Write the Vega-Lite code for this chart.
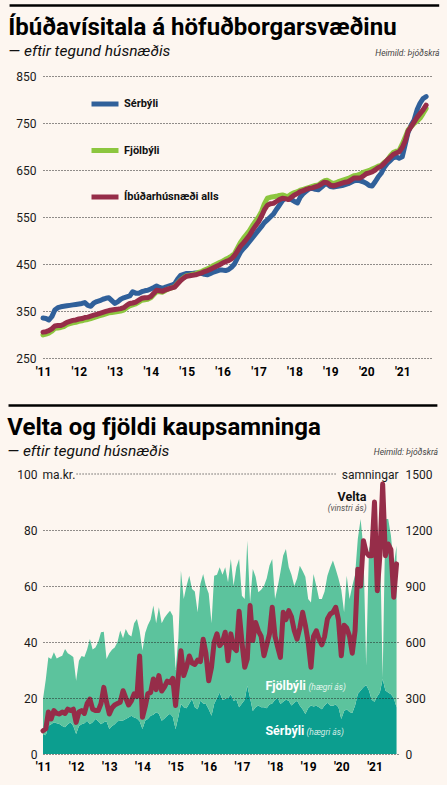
{
  "$schema": "https://vega.github.io/schema/vega-lite/v6.json",
  "background": "#fdf6f0",
  "padding": {"left": 7, "top": 4, "right": 11, "bottom": 13},
  "spacing": 27,
  "resolve": {"scale": {"color": "independent"}},
  "config": {
    "font": "Roboto",
    "view": {"stroke": null},
    "axis": {"domain": false, "ticks": false, "grid": false, "labelFont": "Roboto", "labelFontSize": 12, "labelColor": "#1a1a1a", "titleFont": "Roboto"},
    "title": {"font": "Roboto", "fontSize": 24, "fontWeight": "bold", "color": "#000", "subtitleFont": "Roboto", "subtitleFontSize": 15.5, "subtitleFontStyle": "italic", "subtitleColor": "#111", "subtitlePadding": 4, "anchor": "start", "frame": "bounds"}
  },
  "datasets": {
    "visitala": [
      {"date":"2011-01-01","Sérbýli":335,"Fjölbýli":299,"Íbúðarhúsnæði alls":305},
      {"date":"2011-02-01","Sérbýli":334,"Fjölbýli":301,"Íbúðarhúsnæði alls":306},
      {"date":"2011-03-01","Sérbýli":331,"Fjölbýli":303,"Íbúðarhúsnæði alls":308},
      {"date":"2011-04-01","Sérbýli":338,"Fjölbýli":307,"Íbúðarhúsnæði alls":312},
      {"date":"2011-05-01","Sérbýli":352,"Fjölbýli":313,"Íbúðarhúsnæði alls":318},
      {"date":"2011-06-01","Sérbýli":357,"Fjölbýli":314,"Íbúðarhúsnæði alls":319},
      {"date":"2011-07-01","Sérbýli":359,"Fjölbýli":315,"Íbúðarhúsnæði alls":319},
      {"date":"2011-08-01","Sérbýli":360,"Fjölbýli":317,"Íbúðarhúsnæði alls":322},
      {"date":"2011-09-01","Sérbýli":361,"Fjölbýli":321,"Íbúðarhúsnæði alls":326},
      {"date":"2011-10-01","Sérbýli":362,"Fjölbýli":323,"Íbúðarhúsnæði alls":328},
      {"date":"2011-11-01","Sérbýli":363,"Fjölbýli":325,"Íbúðarhúsnæði alls":330},
      {"date":"2011-12-01","Sérbýli":364,"Fjölbýli":326,"Íbúðarhúsnæði alls":331},
      {"date":"2012-01-01","Sérbýli":365,"Fjölbýli":328,"Íbúðarhúsnæði alls":333},
      {"date":"2012-02-01","Sérbýli":366,"Fjölbýli":329,"Íbúðarhúsnæði alls":334},
      {"date":"2012-03-01","Sérbýli":368,"Fjölbýli":331,"Íbúðarhúsnæði alls":336},
      {"date":"2012-04-01","Sérbýli":362,"Fjölbýli":332,"Íbúðarhúsnæði alls":337},
      {"date":"2012-05-01","Sérbýli":360,"Fjölbýli":334,"Íbúðarhúsnæði alls":339},
      {"date":"2012-06-01","Sérbýli":367,"Fjölbýli":336,"Íbúðarhúsnæði alls":341},
      {"date":"2012-07-01","Sérbýli":370,"Fjölbýli":338,"Íbúðarhúsnæði alls":343},
      {"date":"2012-08-01","Sérbýli":372,"Fjölbýli":340,"Íbúðarhúsnæði alls":345},
      {"date":"2012-09-01","Sérbýli":375,"Fjölbýli":342,"Íbúðarhúsnæði alls":347},
      {"date":"2012-10-01","Sérbýli":377,"Fjölbýli":344,"Íbúðarhúsnæði alls":349},
      {"date":"2012-11-01","Sérbýli":378,"Fjölbýli":346,"Íbúðarhúsnæði alls":351},
      {"date":"2012-12-01","Sérbýli":372,"Fjölbýli":347,"Íbúðarhúsnæði alls":352},
      {"date":"2013-01-01","Sérbýli":366,"Fjölbýli":348,"Íbúðarhúsnæði alls":353},
      {"date":"2013-02-01","Sérbýli":370,"Fjölbýli":349,"Íbúðarhúsnæði alls":354},
      {"date":"2013-03-01","Sérbýli":375,"Fjölbýli":350,"Íbúðarhúsnæði alls":355},
      {"date":"2013-04-01","Sérbýli":378,"Fjölbýli":352,"Íbúðarhúsnæði alls":357},
      {"date":"2013-05-01","Sérbýli":380,"Fjölbýli":357,"Íbúðarhúsnæði alls":362},
      {"date":"2013-06-01","Sérbýli":382,"Fjölbýli":361,"Íbúðarhúsnæði alls":366},
      {"date":"2013-07-01","Sérbýli":391,"Fjölbýli":363,"Íbúðarhúsnæði alls":367},
      {"date":"2013-08-01","Sérbýli":388,"Fjölbýli":365,"Íbúðarhúsnæði alls":369},
      {"date":"2013-09-01","Sérbýli":388,"Fjölbýli":369,"Íbúðarhúsnæði alls":373},
      {"date":"2013-10-01","Sérbýli":391,"Fjölbýli":373,"Íbúðarhúsnæði alls":377},
      {"date":"2013-11-01","Sérbýli":393,"Fjölbýli":374,"Íbúðarhúsnæði alls":378},
      {"date":"2013-12-01","Sérbýli":394,"Fjölbýli":375,"Íbúðarhúsnæði alls":378},
      {"date":"2014-01-01","Sérbýli":397,"Fjölbýli":378,"Íbúðarhúsnæði alls":381},
      {"date":"2014-02-01","Sérbýli":400,"Fjölbýli":385,"Íbúðarhúsnæði alls":388},
      {"date":"2014-03-01","Sérbýli":403,"Fjölbýli":391,"Íbúðarhúsnæði alls":394},
      {"date":"2014-04-01","Sérbýli":400,"Fjölbýli":391,"Íbúðarhúsnæði alls":393},
      {"date":"2014-05-01","Sérbýli":398,"Fjölbýli":390,"Íbúðarhúsnæði alls":392},
      {"date":"2014-06-01","Sérbýli":401,"Fjölbýli":394,"Íbúðarhúsnæði alls":395},
      {"date":"2014-07-01","Sérbýli":403,"Fjölbýli":397,"Íbúðarhúsnæði alls":397},
      {"date":"2014-08-01","Sérbýli":405,"Fjölbýli":399,"Íbúðarhúsnæði alls":399},
      {"date":"2014-09-01","Sérbýli":408,"Fjölbýli":402,"Íbúðarhúsnæði alls":401},
      {"date":"2014-10-01","Sérbýli":418,"Fjölbýli":409,"Íbúðarhúsnæði alls":408},
      {"date":"2014-11-01","Sérbýli":426,"Fjölbýli":416,"Íbúðarhúsnæði alls":415},
      {"date":"2014-12-01","Sérbýli":428,"Fjölbýli":421,"Íbúðarhúsnæði alls":420},
      {"date":"2015-01-01","Sérbýli":430,"Fjölbýli":425,"Íbúðarhúsnæði alls":424},
      {"date":"2015-02-01","Sérbýli":430,"Fjölbýli":426,"Íbúðarhúsnæði alls":425},
      {"date":"2015-03-01","Sérbýli":430,"Fjölbýli":428,"Íbúðarhúsnæði alls":426},
      {"date":"2015-04-01","Sérbýli":431,"Fjölbýli":429,"Íbúðarhúsnæði alls":427},
      {"date":"2015-05-01","Sérbýli":431,"Fjölbýli":432,"Íbúðarhúsnæði alls":429},
      {"date":"2015-06-01","Sérbýli":430,"Fjölbýli":434,"Íbúðarhúsnæði alls":431},
      {"date":"2015-07-01","Sérbýli":428,"Fjölbýli":437,"Íbúðarhúsnæði alls":434},
      {"date":"2015-08-01","Sérbýli":427,"Fjölbýli":440,"Íbúðarhúsnæði alls":436},
      {"date":"2015-09-01","Sérbýli":430,"Fjölbýli":443,"Íbúðarhúsnæði alls":439},
      {"date":"2015-10-01","Sérbýli":433,"Fjölbýli":447,"Íbúðarhúsnæði alls":442},
      {"date":"2015-11-01","Sérbýli":435,"Fjölbýli":450,"Íbúðarhúsnæði alls":445},
      {"date":"2015-12-01","Sérbýli":437,"Fjölbýli":453,"Íbúðarhúsnæði alls":448},
      {"date":"2016-01-01","Sérbýli":437,"Fjölbýli":456,"Íbúðarhúsnæði alls":452},
      {"date":"2016-02-01","Sérbýli":436,"Fjölbýli":460,"Íbúðarhúsnæði alls":455},
      {"date":"2016-03-01","Sérbýli":438,"Fjölbýli":463,"Íbúðarhúsnæði alls":457},
      {"date":"2016-04-01","Sérbýli":443,"Fjölbýli":467,"Íbúðarhúsnæði alls":461},
      {"date":"2016-05-01","Sérbýli":450,"Fjölbýli":472,"Íbúðarhúsnæði alls":468},
      {"date":"2016-06-01","Sérbýli":463,"Fjölbýli":484,"Íbúðarhúsnæði alls":478},
      {"date":"2016-07-01","Sérbýli":475,"Fjölbýli":496,"Íbúðarhúsnæði alls":488},
      {"date":"2016-08-01","Sérbýli":483,"Fjölbýli":505,"Íbúðarhúsnæði alls":495},
      {"date":"2016-09-01","Sérbýli":490,"Fjölbýli":513,"Íbúðarhúsnæði alls":503},
      {"date":"2016-10-01","Sérbýli":498,"Fjölbýli":521,"Íbúðarhúsnæði alls":511},
      {"date":"2016-11-01","Sérbýli":506,"Fjölbýli":532,"Íbúðarhúsnæði alls":522},
      {"date":"2016-12-01","Sérbýli":514,"Fjölbýli":541,"Íbúðarhúsnæði alls":531},
      {"date":"2017-01-01","Sérbýli":522,"Fjölbýli":550,"Íbúðarhúsnæði alls":540},
      {"date":"2017-02-01","Sérbýli":530,"Fjölbýli":562,"Íbúðarhúsnæði alls":552},
      {"date":"2017-03-01","Sérbýli":538,"Fjölbýli":578,"Íbúðarhúsnæði alls":565},
      {"date":"2017-04-01","Sérbýli":544,"Fjölbýli":590,"Íbúðarhúsnæði alls":575},
      {"date":"2017-05-01","Sérbýli":550,"Fjölbýli":592,"Íbúðarhúsnæði alls":578},
      {"date":"2017-06-01","Sérbýli":556,"Fjölbýli":593,"Íbúðarhúsnæði alls":579},
      {"date":"2017-07-01","Sérbýli":566,"Fjölbýli":594,"Íbúðarhúsnæði alls":583},
      {"date":"2017-08-01","Sérbýli":575,"Fjölbýli":596,"Íbúðarhúsnæði alls":587},
      {"date":"2017-09-01","Sérbýli":585,"Fjölbýli":597,"Íbúðarhúsnæði alls":590},
      {"date":"2017-10-01","Sérbýli":590,"Fjölbýli":595,"Íbúðarhúsnæði alls":589},
      {"date":"2017-11-01","Sérbýli":589,"Fjölbýli":594,"Íbúðarhúsnæði alls":587},
      {"date":"2017-12-01","Sérbýli":587,"Fjölbýli":599,"Íbúðarhúsnæði alls":592},
      {"date":"2018-01-01","Sérbýli":583,"Fjölbýli":602,"Íbúðarhúsnæði alls":597},
      {"date":"2018-02-01","Sérbýli":580,"Fjölbýli":604,"Íbúðarhúsnæði alls":600},
      {"date":"2018-03-01","Sérbýli":592,"Fjölbýli":607,"Íbúðarhúsnæði alls":604},
      {"date":"2018-04-01","Sérbýli":600,"Fjölbýli":609,"Íbúðarhúsnæði alls":606},
      {"date":"2018-05-01","Sérbýli":605,"Fjölbýli":611,"Íbúðarhúsnæði alls":609},
      {"date":"2018-06-01","Sérbýli":610,"Fjölbýli":613,"Íbúðarhúsnæði alls":611},
      {"date":"2018-07-01","Sérbýli":611,"Fjölbýli":615,"Íbúðarhúsnæði alls":612},
      {"date":"2018-08-01","Sérbýli":609,"Fjölbýli":617,"Íbúðarhúsnæði alls":614},
      {"date":"2018-09-01","Sérbýli":608,"Fjölbýli":618,"Íbúðarhúsnæði alls":616},
      {"date":"2018-10-01","Sérbýli":613,"Fjölbýli":623,"Íbúðarhúsnæði alls":620},
      {"date":"2018-11-01","Sérbýli":619,"Fjölbýli":627,"Íbúðarhúsnæði alls":624},
      {"date":"2018-12-01","Sérbýli":620,"Fjölbýli":628,"Íbúðarhúsnæði alls":623},
      {"date":"2019-01-01","Sérbýli":615,"Fjölbýli":624,"Íbúðarhúsnæði alls":618},
      {"date":"2019-02-01","Sérbýli":614,"Fjölbýli":621,"Íbúðarhúsnæði alls":616},
      {"date":"2019-03-01","Sérbýli":615,"Fjölbýli":623,"Íbúðarhúsnæði alls":618},
      {"date":"2019-04-01","Sérbýli":616,"Fjölbýli":626,"Íbúðarhúsnæði alls":620},
      {"date":"2019-05-01","Sérbýli":617,"Fjölbýli":628,"Íbúðarhúsnæði alls":622},
      {"date":"2019-06-01","Sérbýli":619,"Fjölbýli":630,"Íbúðarhúsnæði alls":624},
      {"date":"2019-07-01","Sérbýli":621,"Fjölbýli":632,"Íbúðarhúsnæði alls":625},
      {"date":"2019-08-01","Sérbýli":624,"Fjölbýli":635,"Íbúðarhúsnæði alls":629},
      {"date":"2019-09-01","Sérbýli":627,"Fjölbýli":638,"Íbúðarhúsnæði alls":633},
      {"date":"2019-10-01","Sérbýli":628,"Fjölbýli":639,"Íbúðarhúsnæði alls":633},
      {"date":"2019-11-01","Sérbýli":627,"Fjölbýli":641,"Íbúðarhúsnæði alls":633},
      {"date":"2019-12-01","Sérbýli":625,"Fjölbýli":645,"Íbúðarhúsnæði alls":637},
      {"date":"2020-01-01","Sérbýli":622,"Fjölbýli":647,"Íbúðarhúsnæði alls":642},
      {"date":"2020-02-01","Sérbýli":617,"Fjölbýli":649,"Íbúðarhúsnæði alls":644},
      {"date":"2020-03-01","Sérbýli":616,"Fjölbýli":652,"Íbúðarhúsnæði alls":646},
      {"date":"2020-04-01","Sérbýli":625,"Fjölbýli":655,"Íbúðarhúsnæði alls":650},
      {"date":"2020-05-01","Sérbýli":635,"Fjölbýli":658,"Íbúðarhúsnæði alls":655},
      {"date":"2020-06-01","Sérbýli":643,"Fjölbýli":660,"Íbúðarhúsnæði alls":658},
      {"date":"2020-07-01","Sérbýli":655,"Fjölbýli":666,"Íbúðarhúsnæði alls":664},
      {"date":"2020-08-01","Sérbýli":664,"Fjölbýli":671,"Íbúðarhúsnæði alls":671},
      {"date":"2020-09-01","Sérbýli":670,"Fjölbýli":680,"Íbúðarhúsnæði alls":677},
      {"date":"2020-10-01","Sérbýli":676,"Fjölbýli":687,"Íbúðarhúsnæði alls":683},
      {"date":"2020-11-01","Sérbýli":678,"Fjölbýli":690,"Íbúðarhúsnæði alls":686},
      {"date":"2020-12-01","Sérbýli":675,"Fjölbýli":692,"Íbúðarhúsnæði alls":689},
      {"date":"2021-01-01","Sérbýli":678,"Fjölbýli":705,"Íbúðarhúsnæði alls":698},
      {"date":"2021-02-01","Sérbýli":705,"Fjölbýli":720,"Íbúðarhúsnæði alls":712},
      {"date":"2021-03-01","Sérbýli":730,"Fjölbýli":735,"Íbúðarhúsnæði alls":732},
      {"date":"2021-04-01","Sérbýli":745,"Fjölbýli":742,"Íbúðarhúsnæði alls":742},
      {"date":"2021-05-01","Sérbýli":756,"Fjölbýli":749,"Íbúðarhúsnæði alls":752},
      {"date":"2021-06-01","Sérbýli":778,"Fjölbýli":754,"Íbúðarhúsnæði alls":762},
      {"date":"2021-07-01","Sérbýli":792,"Fjölbýli":760,"Íbúðarhúsnæði alls":770},
      {"date":"2021-08-01","Sérbýli":802,"Fjölbýli":770,"Íbúðarhúsnæði alls":778},
      {"date":"2021-09-01","Sérbýli":806,"Fjölbýli":781,"Íbúðarhúsnæði alls":788}
    ],
    "velta": [
      {"date":"2011-01-01","Velta":8.3,"Sérbýli":107,"Fjölbýli":188},
      {"date":"2011-02-01","Velta":9,"Sérbýli":100,"Fjölbýli":300},
      {"date":"2011-03-01","Velta":15,"Sérbýli":152,"Fjölbýli":366},
      {"date":"2011-04-01","Velta":12.5,"Sérbýli":160,"Fjölbýli":349},
      {"date":"2011-05-01","Velta":15.5,"Sérbýli":170,"Fjölbýli":375},
      {"date":"2011-06-01","Velta":14.5,"Sérbýli":165,"Fjölbýli":347},
      {"date":"2011-07-01","Velta":14.3,"Sérbýli":161,"Fjölbýli":359},
      {"date":"2011-08-01","Velta":15,"Sérbýli":150,"Fjölbýli":377},
      {"date":"2011-09-01","Velta":14.5,"Sérbýli":143,"Fjölbýli":420},
      {"date":"2011-10-01","Velta":16,"Sérbýli":160,"Fjölbýli":380},
      {"date":"2011-11-01","Velta":15.5,"Sérbýli":170,"Fjölbýli":360},
      {"date":"2011-12-01","Velta":16,"Sérbýli":150,"Fjölbýli":370},
      {"date":"2012-01-01","Velta":11.3,"Sérbýli":107,"Fjölbýli":286},
      {"date":"2012-02-01","Velta":15,"Sérbýli":150,"Fjölbýli":350},
      {"date":"2012-03-01","Velta":15.5,"Sérbýli":160,"Fjölbýli":365},
      {"date":"2012-04-01","Velta":14.5,"Sérbýli":165,"Fjölbýli":355},
      {"date":"2012-05-01","Velta":18,"Sérbýli":178,"Fjölbýli":382},
      {"date":"2012-06-01","Velta":19.6,"Sérbýli":160,"Fjölbýli":456},
      {"date":"2012-07-01","Velta":16,"Sérbýli":170,"Fjölbýli":390},
      {"date":"2012-08-01","Velta":15.5,"Sérbýli":187,"Fjölbýli":383},
      {"date":"2012-09-01","Velta":15.5,"Sérbýli":175,"Fjölbýli":425},
      {"date":"2012-10-01","Velta":18,"Sérbýli":160,"Fjölbýli":492},
      {"date":"2012-11-01","Velta":23.8,"Sérbýli":170,"Fjölbýli":485},
      {"date":"2012-12-01","Velta":18.5,"Sérbýli":175,"Fjölbýli":334},
      {"date":"2013-01-01","Velta":14.3,"Sérbýli":134,"Fjölbýli":406},
      {"date":"2013-02-01","Velta":16.5,"Sérbýli":150,"Fjölbýli":410},
      {"date":"2013-03-01","Velta":17.5,"Sérbýli":160,"Fjölbýli":410},
      {"date":"2013-04-01","Velta":18,"Sérbýli":175,"Fjölbýli":425},
      {"date":"2013-05-01","Velta":18.5,"Sérbýli":178,"Fjölbýli":483},
      {"date":"2013-06-01","Velta":22.6,"Sérbýli":180,"Fjölbýli":440},
      {"date":"2013-07-01","Velta":20,"Sérbýli":187,"Fjölbýli":483},
      {"date":"2013-08-01","Velta":17.5,"Sérbýli":195,"Fjölbýli":445},
      {"date":"2013-09-01","Velta":19,"Sérbýli":205,"Fjölbýli":425},
      {"date":"2013-10-01","Velta":21.5,"Sérbýli":195,"Fjölbýli":505},
      {"date":"2013-11-01","Velta":20.5,"Sérbýli":190,"Fjölbýli":533},
      {"date":"2013-12-01","Velta":35,"Sérbýli":175,"Fjölbýli":485},
      {"date":"2014-01-01","Velta":13.1,"Sérbýli":134,"Fjölbýli":420},
      {"date":"2014-02-01","Velta":17,"Sérbýli":180,"Fjölbýli":470},
      {"date":"2014-03-01","Velta":21.5,"Sérbýli":187,"Fjölbýli":503},
      {"date":"2014-04-01","Velta":22,"Sérbýli":205,"Fjölbýli":515},
      {"date":"2014-05-01","Velta":26.8,"Sérbýli":210,"Fjölbýli":585},
      {"date":"2014-06-01","Velta":23,"Sérbýli":223,"Fjölbýli":477},
      {"date":"2014-07-01","Velta":28,"Sérbýli":215,"Fjölbýli":571},
      {"date":"2014-08-01","Velta":22.5,"Sérbýli":178,"Fjölbýli":522},
      {"date":"2014-09-01","Velta":24,"Sérbýli":190,"Fjölbýli":540},
      {"date":"2014-10-01","Velta":26,"Sérbýli":205,"Fjölbýli":545},
      {"date":"2014-11-01","Velta":25.5,"Sérbýli":215,"Fjölbýli":553},
      {"date":"2014-12-01","Velta":27,"Sérbýli":200,"Fjölbýli":540},
      {"date":"2015-01-01","Velta":17.3,"Sérbýli":134,"Fjölbýli":316},
      {"date":"2015-02-01","Velta":28,"Sérbýli":200,"Fjölbýli":420},
      {"date":"2015-03-01","Velta":36.9,"Sérbýli":268,"Fjölbýli":714},
      {"date":"2015-04-01","Velta":28,"Sérbýli":250,"Fjölbýli":580},
      {"date":"2015-05-01","Velta":31,"Sérbýli":245,"Fjölbýli":655},
      {"date":"2015-06-01","Velta":35,"Sérbýli":270,"Fjölbýli":685},
      {"date":"2015-07-01","Velta":32.5,"Sérbýli":295,"Fjölbýli":589},
      {"date":"2015-08-01","Velta":32,"Sérbýli":250,"Fjölbýli":620},
      {"date":"2015-09-01","Velta":33.5,"Sérbýli":240,"Fjölbýli":519},
      {"date":"2015-10-01","Velta":33,"Sérbýli":285,"Fjölbýli":626},
      {"date":"2015-11-01","Velta":41,"Sérbýli":270,"Fjölbýli":694},
      {"date":"2015-12-01","Velta":36,"Sérbýli":268,"Fjölbýli":632},
      {"date":"2016-01-01","Velta":26.2,"Sérbýli":240,"Fjölbýli":620},
      {"date":"2016-02-01","Velta":31,"Sérbýli":205,"Fjölbýli":495},
      {"date":"2016-03-01","Velta":39.9,"Sérbýli":268,"Fjölbýli":687},
      {"date":"2016-04-01","Velta":42.9,"Sérbýli":300,"Fjölbýli":660},
      {"date":"2016-05-01","Velta":38.7,"Sérbýli":330,"Fjölbýli":670},
      {"date":"2016-06-01","Velta":40,"Sérbýli":290,"Fjölbýli":670},
      {"date":"2016-07-01","Velta":43.5,"Sérbýli":295,"Fjölbýli":705},
      {"date":"2016-08-01","Velta":33.3,"Sérbýli":300,"Fjölbýli":620},
      {"date":"2016-09-01","Velta":42.9,"Sérbýli":320,"Fjölbýli":725},
      {"date":"2016-10-01","Velta":38,"Sérbýli":285,"Fjölbýli":617},
      {"date":"2016-11-01","Velta":36.9,"Sérbýli":290,"Fjölbýli":710},
      {"date":"2016-12-01","Velta":51,"Sérbýli":250,"Fjölbýli":795},
      {"date":"2017-01-01","Velta":40,"Sérbýli":270,"Fjölbýli":578},
      {"date":"2017-02-01","Velta":31,"Sérbýli":290,"Fjölbýli":540},
      {"date":"2017-03-01","Velta":33.9,"Sérbýli":366,"Fjölbýli":777},
      {"date":"2017-04-01","Velta":53,"Sérbýli":300,"Fjölbýli":512},
      {"date":"2017-05-01","Velta":40.5,"Sérbýli":230,"Fjölbýli":761},
      {"date":"2017-06-01","Velta":47,"Sérbýli":250,"Fjölbýli":700},
      {"date":"2017-07-01","Velta":44,"Sérbýli":260,"Fjölbýli":606},
      {"date":"2017-08-01","Velta":42,"Sérbýli":250,"Fjölbýli":630},
      {"date":"2017-09-01","Velta":35.1,"Sérbýli":250,"Fjölbýli":650},
      {"date":"2017-10-01","Velta":39,"Sérbýli":245,"Fjölbýli":695},
      {"date":"2017-11-01","Velta":42.9,"Sérbýli":265,"Fjölbýli":745},
      {"date":"2017-12-01","Velta":52.4,"Sérbýli":270,"Fjölbýli":775},
      {"date":"2018-01-01","Velta":42,"Sérbýli":290,"Fjölbýli":540},
      {"date":"2018-02-01","Velta":38,"Sérbýli":300,"Fjölbýli":600},
      {"date":"2018-03-01","Velta":34.5,"Sérbýli":268,"Fjölbýli":705},
      {"date":"2018-04-01","Velta":50.6,"Sérbýli":280,"Fjölbýli":783},
      {"date":"2018-05-01","Velta":48,"Sérbýli":290,"Fjölbýli":808},
      {"date":"2018-06-01","Velta":51.2,"Sérbýli":285,"Fjölbýli":715},
      {"date":"2018-07-01","Velta":49,"Sérbýli":260,"Fjölbýli":700},
      {"date":"2018-08-01","Velta":44,"Sérbýli":275,"Fjölbýli":625},
      {"date":"2018-09-01","Velta":41,"Sérbýli":285,"Fjölbýli":655},
      {"date":"2018-10-01","Velta":45,"Sérbýli":260,"Fjölbýli":749},
      {"date":"2018-11-01","Velta":50.6,"Sérbýli":240,"Fjölbýli":740},
      {"date":"2018-12-01","Velta":46,"Sérbýli":214,"Fjölbýli":736},
      {"date":"2019-01-01","Velta":40,"Sérbýli":245,"Fjölbýli":585},
      {"date":"2019-02-01","Velta":31,"Sérbýli":260,"Fjölbýli":552},
      {"date":"2019-03-01","Velta":42,"Sérbýli":255,"Fjölbýli":709},
      {"date":"2019-04-01","Velta":44,"Sérbýli":258,"Fjölbýli":642},
      {"date":"2019-05-01","Velta":41,"Sérbýli":250,"Fjölbýli":580},
      {"date":"2019-06-01","Velta":39,"Sérbýli":240,"Fjölbýli":590},
      {"date":"2019-07-01","Velta":42,"Sérbýli":260,"Fjölbýli":610},
      {"date":"2019-08-01","Velta":48.2,"Sérbýli":275,"Fjölbýli":680},
      {"date":"2019-09-01","Velta":50,"Sérbýli":260,"Fjölbýli":740},
      {"date":"2019-10-01","Velta":50.6,"Sérbýli":258,"Fjölbýli":778},
      {"date":"2019-11-01","Velta":52.4,"Sérbýli":265,"Fjölbýli":725},
      {"date":"2019-12-01","Velta":48,"Sérbýli":250,"Fjölbýli":690},
      {"date":"2020-01-01","Velta":35.1,"Sérbýli":187,"Fjölbýli":693},
      {"date":"2020-02-01","Velta":46,"Sérbýli":230,"Fjölbýli":529},
      {"date":"2020-03-01","Velta":45,"Sérbýli":240,"Fjölbýli":715},
      {"date":"2020-04-01","Velta":42,"Sérbýli":225,"Fjölbýli":605},
      {"date":"2020-05-01","Velta":36,"Sérbýli":220,"Fjölbýli":680},
      {"date":"2020-06-01","Velta":44,"Sérbýli":260,"Fjölbýli":700},
      {"date":"2020-07-01","Velta":66,"Sérbýli":321,"Fjölbýli":831},
      {"date":"2020-08-01","Velta":60,"Sérbýli":340,"Fjölbýli":919},
      {"date":"2020-09-01","Velta":76.2,"Sérbýli":357,"Fjölbýli":743},
      {"date":"2020-10-01","Velta":72,"Sérbýli":370,"Fjölbýli":103},
      {"date":"2020-11-01","Velta":70.8,"Sérbýli":340,"Fjölbýli":758},
      {"date":"2020-12-01","Velta":70.8,"Sérbýli":290,"Fjölbýli":850},
      {"date":"2021-01-01","Velta":90,"Sérbýli":280,"Fjölbýli":820},
      {"date":"2021-02-01","Velta":58.3,"Sérbýli":310,"Fjölbýli":820},
      {"date":"2021-03-01","Velta":70.8,"Sérbýli":330,"Fjölbýli":850},
      {"date":"2021-04-01","Velta":96.4,"Sérbýli":402,"Fjölbýli":5},
      {"date":"2021-05-01","Velta":70.8,"Sérbýli":340,"Fjölbýli":919},
      {"date":"2021-06-01","Velta":75,"Sérbýli":330,"Fjölbýli":929},
      {"date":"2021-07-01","Velta":73,"Sérbýli":320,"Fjölbýli":850},
      {"date":"2021-08-01","Velta":56,"Sérbýli":300,"Fjölbýli":709},
      {"date":"2021-09-01","Velta":67.9,"Sérbýli":250,"Fjölbýli":866}
    ]
  },
  "vconcat": [
    {
      "width": 390,
      "height": 282,
      "title": {"text": "Íbúðavísitala á höfuðborgarsvæðinu", "subtitle": "— eftir tegund húsnæðis", "offset": -55},
      "layer": [
        {
          "data": {"name": "visitala"},
          "transform": [{"fold": ["Sérbýli", "Fjölbýli", "Íbúðarhúsnæði alls"], "as": ["series", "value"]}],
          "mark": {"type": "line", "strokeWidth": 5, "strokeCap": "round", "strokeJoin": "round"},
          "encoding": {
            "x": {"field": "date", "type": "temporal",
              "scale": {"type": "utc", "domain": ["2011-01-01", "2021-11-10"], "nice": false},
              "axis": {"format": "'%y", "tickCount": "year", "labelFlush": false, "labelOverlap": false, "labelFontWeight": "bold", "labelFontSize": 12, "labelColor": "#000", "labelPadding": 8,
                "title": "Heimild: Þjóðskrá", "titleX": 396, "titleY": -306, "titleAlign": "right", "titleAnchor": null, "titleBaseline": "middle", "titleFontSize": 8.5, "titleFontStyle": "italic", "titleFontWeight": "normal", "titleColor": "#444"}},
            "y": {"field": "value", "type": "quantitative",
              "scale": {"domain": [250, 850], "nice": false, "zero": false},
              "axis": {"values": [250, 350, 450, 550, 650, 750, 850], "grid": true, "gridDash": [1, 2], "gridColor": "#222", "gridWidth": 1, "labelPadding": 7, "title": null}},
            "color": {"field": "series", "type": "nominal",
              "scale": {"domain": ["Sérbýli", "Fjölbýli", "Íbúðarhúsnæði alls"], "range": ["#30609a", "#8cc63f", "#962d49"]},
              "legend": {"orient": "none", "legendX": 46, "legendY": 12, "direction": "vertical", "title": null, "symbolType": "stroke", "symbolSize": 729, "symbolStrokeWidth": 5, "labelFont": "Roboto", "labelFontSize": 11, "labelFontWeight": "bold", "labelColor": "#111", "rowPadding": 20.5, "labelOffset": 3, "padding": 0}}
          }
        },
        {
          "data": {"values": [{"element": "title bar"}]},
          "mark": {"type": "rule", "color": "#000", "strokeWidth": 2.5},
          "encoding": {
            "x": {"datum": 1264464000000, "type": "temporal"},
            "x2": {"datum": 1641945600000},
            "y": {"datum": 1000, "type": "quantitative"}
          }
        }
      ]
    },
    {
      "width": 356,
      "height": 280,
      "title": {"text": "Velta og fjöldi kaupsamninga", "subtitle": "— eftir tegund húsnæðis", "offset": -55},
      "layer": [
        {
          "data": {"name": "velta"},
          "transform": [{"fold": ["Sérbýli", "Fjölbýli"], "as": ["tegund", "fjoldi"]}],
          "mark": {"type": "area", "interpolate": "linear"},
          "encoding": {
            "x": {"field": "date", "type": "temporal",
              "scale": {"type": "utc", "domain": ["2011-01-01", "2021-09-28"], "nice": false},
              "axis": {"format": "'%y", "tickCount": "year", "labelFlush": false, "labelOverlap": false, "labelFontWeight": "bold", "labelFontSize": 12, "labelColor": "#000", "labelPadding": 7,
                "title": "Heimild: Þjóðskrá", "titleX": 394.5, "titleY": -303, "titleAlign": "right", "titleAnchor": null, "titleBaseline": "middle", "titleFontSize": 8.5, "titleFontStyle": "italic", "titleFontWeight": "normal", "titleColor": "#444"}},
            "y": {"field": "fjoldi", "type": "quantitative", "stack": "zero",
              "scale": {"domain": [0, 1500], "nice": false},
              "axis": {"orient": "right", "values": [0, 300, 600, 900, 1200, 1500], "format": "d", "labelPadding": 6, "labelAlign": "left",
                "title": "samningar", "titleAngle": 0, "titleX": -1, "titleY": 0, "titleAlign": "right", "titleBaseline": "middle", "titleFontSize": 12, "titleFontWeight": "normal", "titleColor": "#1a1a1a"}},
            "color": {"field": "tegund", "type": "nominal", "scale": {"domain": ["Sérbýli", "Fjölbýli"], "range": ["#0c9e8f", "#5cc39d"]}, "legend": null},
            "order": {"field": "tegund", "sort": "descending"}
          }
        },
        {
          "layer": [
            {
              "data": {"name": "velta"},
              "mark": {"type": "line", "color": "#962d49", "strokeWidth": 5, "strokeCap": "round", "strokeJoin": "round"},
              "encoding": {
                "x": {"field": "date", "type": "temporal", "scale": {"type": "utc", "domain": ["2011-01-01", "2021-09-28"], "nice": false}},
                "y": {"field": "Velta", "type": "quantitative",
                  "scale": {"domain": [0, 100], "nice": false},
                  "axis": {"orient": "left", "values": [0, 20, 40, 60, 80, 100], "grid": true, "gridDash": [1, 2], "gridColor": "#222", "gridWidth": 1,
                    "gridOpacity": {"condition": {"test": "datum.value === 100", "value": 0}, "value": 1}, "zindex": 1, "labelPadding": 6,
                    "title": "ma.kr.", "titleAngle": 0, "titleX": -1, "titleY": 0, "titleAlign": "left", "titleBaseline": "middle", "titleFontSize": 12, "titleFontWeight": "normal", "titleColor": "#1a1a1a"}}
              }
            },
            {
              "data": {"values": [{"element": "gridline 100"}]},
              "mark": {"type": "rule", "color": "#222", "strokeWidth": 1, "strokeDash": [1, 2]},
              "encoding": {
                "x": {"datum": 1325808000000, "type": "temporal"},
                "x2": {"datum": 1574208000000},
                "y": {"datum": 100, "type": "quantitative"}
              }
            },
            {
              "data": {"values": [{"element": "title bar"}]},
              "mark": {"type": "rule", "color": "#000", "strokeWidth": 2.5},
              "encoding": {
                "x": {"datum": 1261008000000, "type": "temporal"},
                "x2": {"datum": 1669334400000},
                "y": {"datum": 124.5, "type": "quantitative"}
              }
            },
            {
              "data": {"values": [{"label": "Velta"}]},
              "mark": {"type": "text", "align": "right", "baseline": "middle", "font": "Roboto", "fontSize": 12.5, "fontWeight": "bold", "color": "#111"},
              "encoding": {
                "text": {"field": "label"},
                "x": {"datum": 1601856000000, "type": "temporal"},
                "y": {"datum": 91.9, "type": "quantitative"}
              }
            },
            {
              "data": {"values": [{"label": "(vinstri ás)"}]},
              "mark": {"type": "text", "align": "right", "baseline": "middle", "font": "Roboto", "fontSize": 8.5, "fontStyle": "italic", "color": "#555"},
              "encoding": {
                "text": {"field": "label"},
                "x": {"datum": 1601856000000, "type": "temporal"},
                "y": {"datum": 87.9, "type": "quantitative"}
              }
            },
            {
              "data": {"values": [{"label": "Fjölbýli"}]},
              "mark": {"type": "text", "align": "left", "baseline": "middle", "font": "Roboto", "fontSize": 12.5, "fontWeight": "bold", "color": "#ffffff"},
              "encoding": {
                "text": {"field": "label"},
                "x": {"datum": 1505606400000, "type": "temporal"},
                "y": {"datum": 24.4, "type": "quantitative"}
              }
            },
            {
              "data": {"values": [{"label": "(hægri ás)"}]},
              "mark": {"type": "text", "align": "left", "baseline": "middle", "font": "Roboto", "fontSize": 8.5, "fontStyle": "italic", "color": "#e3f4ec"},
              "encoding": {
                "text": {"field": "label"},
                "x": {"datum": 1546646400000, "type": "temporal"},
                "y": {"datum": 24.1, "type": "quantitative"}
              }
            },
            {
              "data": {"values": [{"label": "Sérbýli"}]},
              "mark": {"type": "text", "align": "left", "baseline": "middle", "font": "Roboto", "fontSize": 12.5, "fontWeight": "bold", "color": "#ffffff"},
              "encoding": {
                "text": {"field": "label"},
                "x": {"datum": 1505606400000, "type": "temporal"},
                "y": {"datum": 8.2, "type": "quantitative"}
              }
            },
            {
              "data": {"values": [{"label": "(hægri ás)"}]},
              "mark": {"type": "text", "align": "left", "baseline": "middle", "font": "Roboto", "fontSize": 8.5, "fontStyle": "italic", "color": "#d5ece5"},
              "encoding": {
                "text": {"field": "label"},
                "x": {"datum": 1544745600000, "type": "temporal"},
                "y": {"datum": 8.0, "type": "quantitative"}
              }
            }
          ]
        }
      ],
      "resolve": {"scale": {"y": "independent"}}
    }
  ]
}
